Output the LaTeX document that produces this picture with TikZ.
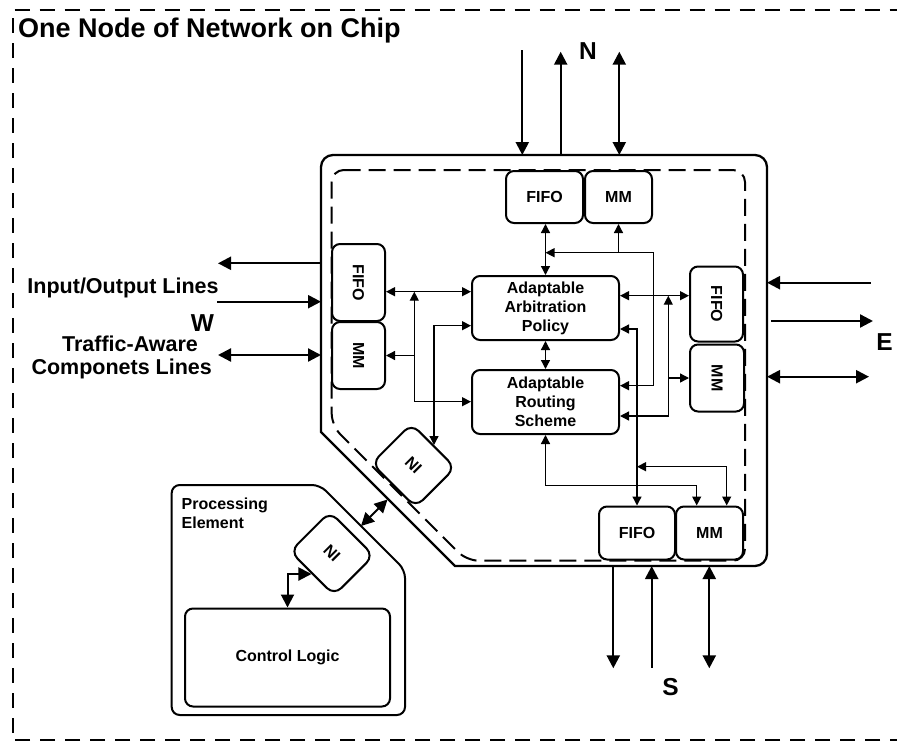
\documentclass[tikz,border=0pt]{standalone}
\usepackage{fontspec}
\setmainfont{Liberation Sans}
\usepackage{graphicx}
\usetikzlibrary{arrows.meta,calc}

\begin{document}
\begin{tikzpicture}[x=1pt,y=-1pt,
  box/.style={draw, line width=2pt, rounded corners=8pt, fill=white, inner sep=0pt,
              align=center, font=\bfseries\fontsize{16}{19}\selectfont},
  nibox/.style={box, rotate=-45, minimum width=62pt, minimum height=56pt, rounded corners=10pt},
  link/.style={line width=1.3pt, >={Triangle[length=9pt,width=9pt]}},
  port/.style={line width=2.3pt, >={Triangle[length=13pt,width=13pt]}},
  outerframe/.style={line width=2pt, dash pattern=on 15pt off 10pt},
  innerframe/.style={line width=2pt, dash pattern=on 17pt off 8pt, rounded corners=12pt},
  sidetext/.style={font=\bfseries\fontsize{21.5}{25}\selectfont, inner sep=0pt},
  dirtext/.style={font=\bfseries\fontsize{24.5}{28}\selectfont, inner sep=0pt},
]
\useasboundingbox (0,0) rectangle (897,742);
\fill[white] (0,0) rectangle (897,742);

% dashed frame round the whole node
\draw[outerframe] (905,740) -- (12.5,740) -- (12.5,9.5) -- (905,9.5);
\node[anchor=base west, inner sep=0pt, font=\bfseries\fontsize{27}{31}\selectfont]
  (title) at (18,37) {One Node of Network on Chip};

% router boundary (dashed) and node boundary (solid)
\draw[innerframe] (331.7,170) -- (745,170) -- (745,560.7) -- (466.7,560.7) -- (331.7,425.7) -- cycle;
\draw[line width=2.3pt, rounded corners=12pt] (321,300) -- (321,155) -- (767,155) -- (767,566) -- (600,566);
\draw[line width=2.3pt] (600,566) -- (455,566) -- (321,432) -- (321,300);

% processing element
\draw[line width=2pt, rounded corners=8pt] (171.7,600) -- (171.7,485) -- (320,485) -- (405,570)
  -- (405,715) -- (171.7,715) -- cycle;
\node[anchor=base west, inner sep=0pt, font=\bfseries\fontsize{16}{19}\selectfont] (pe1) at (181.5,509.8) {Processing};
\node[anchor=base west, inner sep=0pt, font=\bfseries\fontsize{16}{19}\selectfont] (pe2) at (181.5,528.8) {Element};

% buffers
\node[box, minimum width=77pt, minimum height=52pt] (fifoN) at (544.5,197) {FIFO};
\node[box, minimum width=67pt, minimum height=52pt] (mmN) at (618.5,197) {MM};
\node[box, minimum width=53pt, minimum height=77pt] (fifoW) at (358.5,282.5) {\rotatebox{-90}{FIFO}};
\node[box, minimum width=53pt, minimum height=67pt] (mmW) at (358.5,355.5) {\rotatebox{-90}{MM}};
\node[box, minimum width=53pt, minimum height=75pt] (fifoE) at (716.5,304) {\rotatebox{-90}{FIFO}};
\node[box, minimum width=54pt, minimum height=67pt] (mmE) at (717,378) {\rotatebox{-90}{MM}};
\node[box, minimum width=76pt, minimum height=53pt] (fifoS) at (637,533) {FIFO};
\node[box, minimum width=67pt, minimum height=53pt] (mmS) at (709.5,533) {MM};

% control blocks
\node[box, minimum width=147pt, minimum height=64pt] (arb) at (545.5,308) {Adaptable\\Arbitration\\Policy};
\node[box, minimum width=147pt, minimum height=64pt] (rout) at (545.5,402) {Adaptable\\Routing\\Scheme};
\node[nibox] (ni1) at (413.5,465.5) {NI};
\node[nibox] (ni2) at (332,553.5) {NI};
\node[box, minimum width=205pt, minimum height=98pt] (ctrl) at (287.5,657.5) {Control Logic};

% rows and junctions of the internal wiring
\coordinate (jNE) at (653.3,252.7);
\coordinate (rR1) at (0,385.7);
\coordinate (rL1) at (0,291.7);
\coordinate (jL) at (414.3,291.7);
\coordinate (rL3) at (0,401.7);
\coordinate (rL2) at (0,325.7);
\coordinate (rR0) at (0,295.7);
\coordinate (jE) at (668.3,295.7);
\coordinate (rR3) at (0,416);
\coordinate (rR2) at (0,329);
\coordinate (jS) at (726.7,466.7);
\coordinate (jS2) at (696.7,485.7);

\draw[link,<->] (fifoN.south -| arb.north) -- (arb.north);
\draw[link,<->] (arb.north |- jNE) -- (jNE) |- (rout.east |- rR1);
\draw[link,->] (mmN.south |- jNE) -- (mmN.south);
\draw[link,<->] (fifoW.east |- rL1) -- (arb.west |- rL1);
\draw[link,<->] (jL) |- (rout.west |- rL3);
\draw[link,->] (jL |- mmW.east) -- (mmW.east);
\draw[link,<->] (arb.west |- rL2) -| (ni1.north);
\draw[link,<->] (arb.south) -- (rout.north);
\draw[link,<->] (arb.east |- rR0) -- (fifoE.west |- rR0);
\draw[link,<->] (jE) |- (rout.east |- rR3);
\draw[link,->] (jE |- mmE.west) -- (mmE.west);
\draw[link,<->] (arb.east |- rR2) -| (fifoS.north);
\draw[link,<->] (fifoS.north |- jS) -- (jS) -- (jS |- mmS.north);
\draw[link,<->] (rout.south) |- (jS2) -- (jS2 |- mmS.north);

% network interface links
\coordinate (pa) at (387.5,499.5);
\coordinate (pb) at (361,526);
\draw[port,line width=2pt,<->] (pa) -- (pb);
\draw[port,line width=2pt,<->] (ni2.south) -| (ctrl.north);

% ports of the node
\coordinate (obN) at (0,155);
\coordinate (obS) at (0,566);
\coordinate (obW) at (321,0);
\coordinate (obE) at (767,0);

\coordinate (n1) at (522.3,50);
\coordinate (n2) at (560.7,51.7);
\coordinate (n3) at (619.3,51.7);
\draw[port,->] (n1) -- (n1 |- obN);
\draw[port,<-] (n2) -- (n2 |- obN);
\draw[port,<->] (n3) -- (n3 |- obN);
\node[dirtext] (labN) at (588,51) {N};

\coordinate (w1) at (218,263.3);
\coordinate (w2) at (217,301.7);
\coordinate (w3) at (218,355);
\draw[port,->] (w1 -| obW) -- (w1);
\draw[port,->] (w2) -- (w2 -| obW);
\draw[port,<->] (w3) -- (w3 -| obW);
\node[sidetext] (io) at (123,288) {Input/Output Lines};
\node[dirtext] (labW) at (202.5,323) {W};
\node[sidetext] (ta1) at (130,344) {Traffic-Aware};
\node[sidetext] (ta2) at (121.7,369) {Componets Lines};

\coordinate (e1) at (870.7,282.7);
\coordinate (e2s) at (771,321);
\coordinate (e2) at (873,321);
\coordinate (e3) at (869,376.7);
\draw[port,->] (e1) -- (e1 -| obE);
\draw[port,->] (e2s) -- (e2);
\draw[port,<->] (e3) -- (e3 -| obE);
\node[dirtext] (labE) at (884.5,341.7) {E};

\coordinate (s1) at (613.3,668.3);
\coordinate (s2) at (651.7,667.7);
\coordinate (s3) at (709.3,668.3);
\draw[port,->] (s1 |- obS) -- (s1);
\draw[port,->] (s2) -- (s2 |- obS);
\draw[port,<->] (s3) -- (s3 |- obS);
\node[dirtext] (labS) at (670.5,687.5) {S};
\end{tikzpicture}
\end{document}
